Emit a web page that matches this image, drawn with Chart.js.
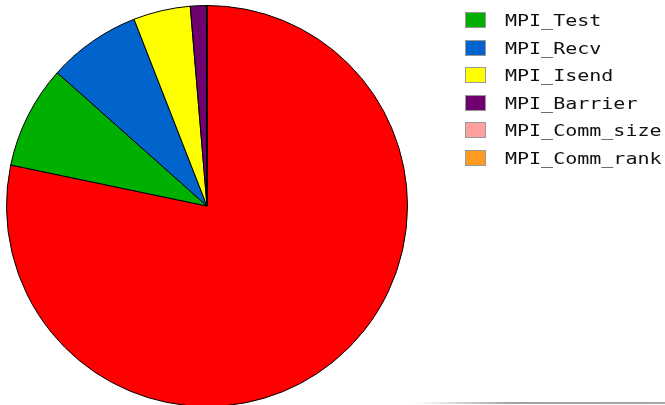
<!DOCTYPE html>
<html>
<head>
<meta charset="utf-8">
<script src="https://cdn.jsdelivr.net/npm/chart.js@4/dist/chart.umd.min.js"></script>
<style>
    html, body { margin: 0; padding: 0; background: #fff; overflow: hidden; }
    #wrap { position: absolute; left: 0; top: 0; width: 665px; height: 410px; }
    #legend { position: absolute; left: 465px; top: 12px; font-family: "DejaVu Sans Mono", monospace; font-size: 16px; color: #111; }
    .item { height: 27.5px; position: relative; }
    .box { position: absolute; left: 0; top: 0; border: 1px solid #999; box-sizing: content-box; width: 19px; height: 14px; }
    .txt { position: absolute; left: 40px; top: -1px; white-space: nowrap; transform: scaleX(1.25); transform-origin: left center; }
    #shade { position: absolute; left: 415px; top: 402px; width: 250px; height: 2px; background: linear-gradient(to right, rgba(150,150,150,0), #a0a0a0 40%, #a8a8a8); }
</style>
</head>
<body>
<div id="wrap"><canvas id="pie-chart" width="665" height="410"></canvas></div>
<div id="legend"></div>
<div id="shade"></div>
<script>
// 各函数耗时占比 (%)
const labels = ['Other', 'MPI_Test', 'MPI_Recv', 'MPI_Isend', 'MPI_Barrier', 'MPI_Comm_size', 'MPI_Comm_rank'];
const values = [78.3, 8.3, 7.5, 4.6, 1.3, 0.02, 0.01];
const colors = ['#ff0000', '#00b000', '#0064cc', '#ffff00', '#6e0070', '#ffa0a0', '#ff9a22'];
// 图例里不显示第一项
const legendLabels = labels.slice(1);
const legendColors = colors.slice(1);

// 图例 (HTML)
const legend = document.getElementById('legend');
legendLabels.forEach((name, i) => {
    const row = document.createElement('div');
    row.className = 'item';
    row.innerHTML = '<div class="box" style="background:' + legendColors[i] + '"></div><div class="txt">' + name + '</div>';
    legend.appendChild(row);
});

// 饼图
const canvas = document.getElementById('pie-chart');
window.pieChart = new Chart(canvas, {
    type: 'pie',
    data: {
        labels: labels,
        datasets: [{
            data: values,
            backgroundColor: colors,
            borderColor: '#000',
            borderWidth: 1
        }]
    },
    options: {
        responsive: false,
        animation: false,
        layout: {
            padding: { left: 6, top: 5, right: 257, bottom: 3 }
        },
        plugins: {
            legend: { display: false },
            tooltip: { enabled: false }
        }
    }
});
</script>
</body>
</html>
